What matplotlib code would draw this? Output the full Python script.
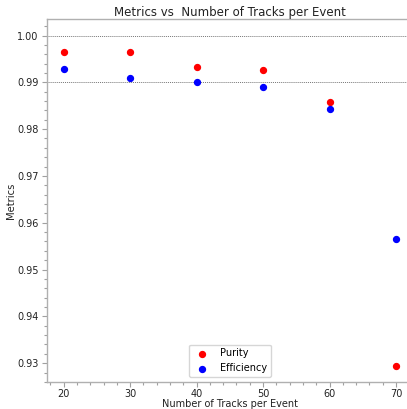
import matplotlib
matplotlib.use("Agg")
import matplotlib.pyplot as plt
from matplotlib.ticker import MultipleLocator, FormatStrFormatter

tracks = [20, 30, 40, 50, 60, 70]
purity = [0.9964, 0.9964, 0.9932, 0.9927, 0.9857, 0.9295]
efficiency = [0.9929, 0.9909, 0.9901, 0.9889, 0.9842, 0.9565]
ref_lines = [1.00, 0.99]

W, H = 407, 409
fig = plt.figure(figsize=(W / 100, H / 100), dpi=100)
left, right, top, bottom = 47, 412.6, 19, 382
ax = fig.add_axes([left / W, 1 - bottom / H, (right - left) / W, (bottom - top) / H])

ax.scatter(tracks, purity, color="red", s=18, label="Purity", zorder=3)
ax.scatter(tracks, efficiency, color="blue", s=18, label="Efficiency", zorder=3)

for y in ref_lines:
    ax.axhline(y, color="#777777", linestyle=(0, (1, 1)), linewidth=0.7, zorder=1)

ax.xaxis.set_major_locator(MultipleLocator(10))
ax.xaxis.set_minor_locator(MultipleLocator(2))
ax.yaxis.set_major_locator(MultipleLocator(0.01))
ax.yaxis.set_minor_locator(MultipleLocator(0.002))
ax.yaxis.set_major_formatter(FormatStrFormatter("%.2f"))

for side in ax.spines:
    ax.spines[side].set_color("#b0b0b0")
    ax.spines[side].set_linewidth(1.0)

ax.tick_params(which="both", colors="#a0a0a0", labelcolor="#222222", direction="out")
ax.tick_params(which="major", length=3.5, width=0.8, labelsize=7, pad=2.5)
ax.tick_params(which="minor", length=2.2, width=0.8)
ax.tick_params(axis="x", which="major", pad=1.5)

ax.set_title("Metrics vs  Number of Tracks per Event", fontsize=8.5, color="#222222", pad=2)
ax.set_xlabel("Number of Tracks per Event", fontsize=7, color="#222222", labelpad=0)
ax.set_ylabel("Metrics", fontsize=7.2, color="#222222", labelpad=1)

ax.legend(loc="lower center", fontsize=7, frameon=True)

fig.savefig("out.png", dpi=100)
